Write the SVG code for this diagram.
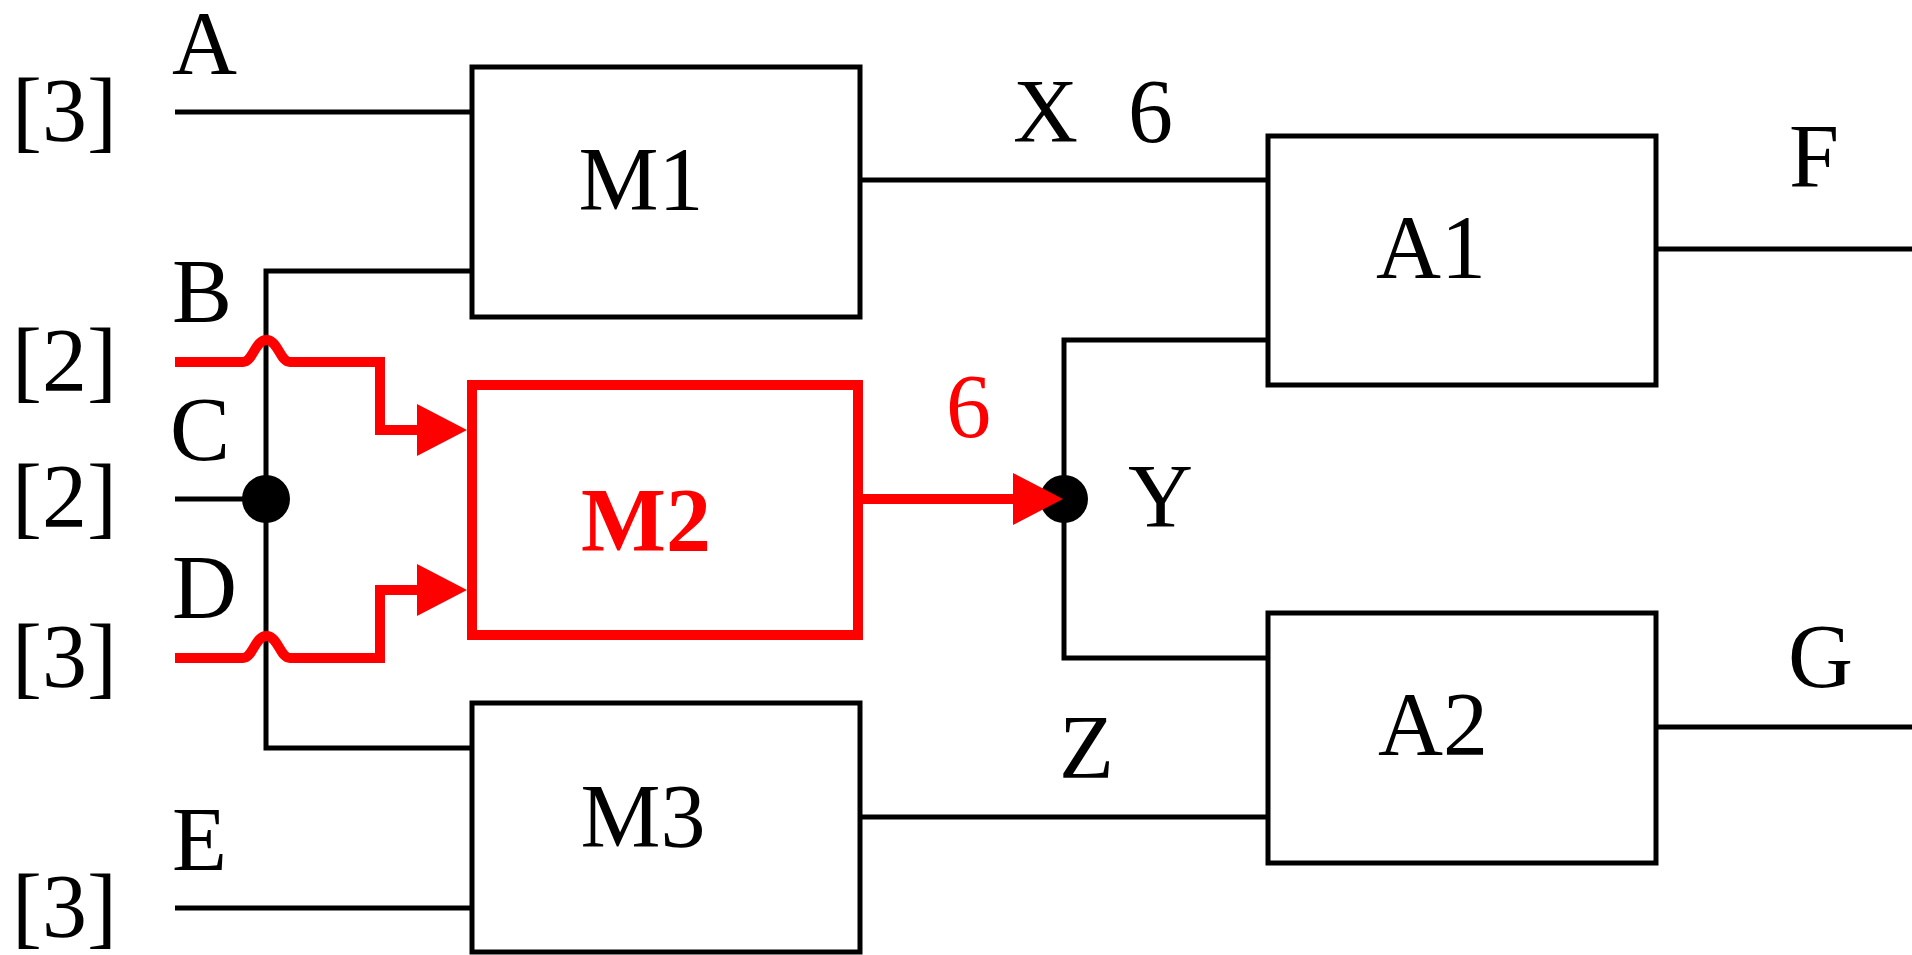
<svg xmlns="http://www.w3.org/2000/svg" width="1912" height="955" viewBox="0 0 1912 955">
<defs>
<style>
text{font-family:'Liberation Serif','Times New Roman',Tinos,'Nimbus Roman',Times,serif;font-size:90px;fill:#000}
.box{fill:#fff;stroke:#000;stroke-width:5}
.rbox{fill:#fff;stroke:#f00;stroke-width:10}
.w{fill:none;stroke:#000;stroke-width:5}
.r{fill:none;stroke:#f00;stroke-width:10}
.red{fill:#f00}
.bold{font-weight:bold}
.mid{text-anchor:middle}
</style>
<marker id="arr" markerUnits="userSpaceOnUse" viewBox="0 0 50 52" markerWidth="50" markerHeight="52" refX="13" refY="26" orient="auto">
<path d="M0,0 L50,26 L0,52 Z" fill="#f00"/>
</marker>
</defs>
<rect width="1912" height="955" fill="#fff"/>
<g id="connectors">
<path class="w" d="M175,112 H472"/>
<path class="w" d="M472,271 H266 V748 H472"/>
<path class="w" d="M175,499 H266"/>
<path class="w" d="M175,908 H472"/>
<path class="w" d="M860,180 H1268"/>
<path class="w" d="M860,817 H1268"/>
<path class="w" d="M1268,340 H1064 V658 H1268"/>
<path class="w" d="M1656,249 H1912"/>
<path class="w" d="M1656,727 H1912"/>
<circle cx="266" cy="499" r="24" fill="#000"/>
<circle cx="1064" cy="499" r="24" fill="#000"/>
<path class="r" d="M175,362 H243 C253,362 255,340 266.5,340 C278,340 280,362 290,362 H380 V430 H430" marker-end="url(#arr)"/>
<path class="r" d="M175,658 H243 C253,658 255,636 266.5,636 C278,636 280,658 290,658 H380 V590 H430" marker-end="url(#arr)"/>
<path class="r" d="M863,499 H1026" marker-end="url(#arr)"/>
</g>
<g id="labels" font-family="Liberation Serif, Times New Roman, serif">
<text x="12" y="141">[3]</text>
<text x="12" y="391">[2]</text>
<text x="12" y="527">[2]</text>
<text x="12" y="687">[3]</text>
<text x="12" y="937">[3]</text>
<text x="172" y="74">A</text>
<text x="172" y="322">B</text>
<text x="170" y="460">C</text>
<text x="172" y="618">D</text>
<text x="172" y="870">E</text>
<text x="1013" y="142">X</text>
<text x="1128" y="142">6</text>
<text x="946" y="437" class="red">6</text>
<text x="1128" y="527">Y</text>
<text x="1059" y="778">Z</text>
<text x="1789" y="187">F</text>
<text x="1788" y="687">G</text>
</g>
<g id="M1">
<rect class="box" x="472" y="67" width="388" height="250"/>
<text class="mid" x="641" y="210">M1</text>
</g>
<g id="M2">
<rect class="rbox" x="472" y="385" width="386" height="250"/>
<text class="mid red bold" x="646" y="551">M2</text>
</g>
<g id="M3">
<rect class="box" x="472" y="703" width="388" height="249"/>
<text class="mid" x="643" y="847">M3</text>
</g>
<g id="A1">
<rect class="box" x="1268" y="136" width="388" height="249"/>
<text class="mid" x="1431" y="278">A1</text>
</g>
<g id="A2">
<rect class="box" x="1268" y="613" width="388" height="250"/>
<text class="mid" x="1433" y="755">A2</text>
</g>
</svg>
